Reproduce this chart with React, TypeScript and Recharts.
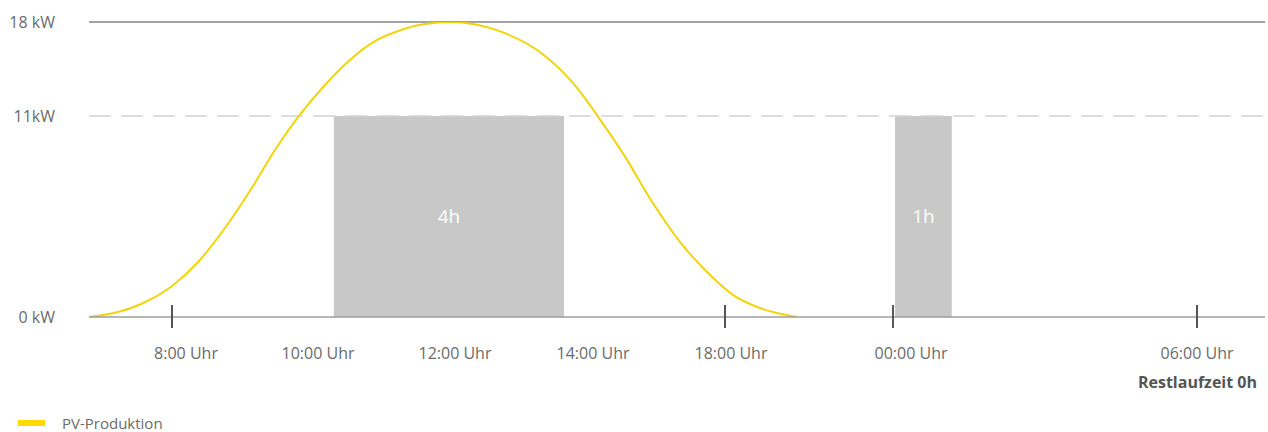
import React from "react";
import {
  ComposedChart,
  Line,
  XAxis,
  YAxis,
  ReferenceLine,
  ReferenceArea,
} from "recharts";

// PV production curve (hour of day, kW)
const pvHours = [
  6.85, 7.25, 7.63, 8.0, 8.36, 8.73, 9.1, 9.42, 9.74, 10.14, 10.47, 10.86,
  11.16, 11.54, 11.93, 12.23, 12.72, 13.2, 13.68, 14.06, 14.89, 15.78, 16.62,
  17.45, 18.29, 19.25, 20.57,
];
const pvKw = [
  0, 0.27, 0.82, 1.7, 3.01, 4.87, 7.06, 9.14, 10.95, 13.46, 15.17, 16.66,
  17.33, 17.85, 18, 17.85, 17.11, 15.77, 13.46, 11.07, 8.87, 6.24, 4.1, 2.46,
  1.2, 0.49, 0,
];

// charging blocks
const chargeStart = [10.24, 24.04];
const chargeEnd = [13.55, 25.16];
const chargePower = [11, 11];
const chargeLabels = ["4h", "1h"];

// axes
const xTickHours = [8, 10, 12, 14, 18, 24, 30];
const xTickLabels = [
  "8:00 Uhr",
  "10:00 Uhr",
  "12:00 Uhr",
  "14:00 Uhr",
  "18:00 Uhr",
  "00:00 Uhr",
  "06:00 Uhr",
];
const xTickMarked = [true, false, false, false, true, true, true];
const yTicks = [0, 11, 18];
const yTickLabels = ["0 kW", "11kW", "18 kW"];
const remainingLabel = "Restlaufzeit 0h";
const seriesName = "PV-Produktion";

// the timeline is drawn schematically, not to scale
const xKnots = [6.85, 8, 10, 12, 14, 18, 24, 30, 31.2];
const xKnotFrac = [0, 0.0706, 0.1939, 0.3129, 0.4303, 0.5408, 0.6837, 0.9422, 1];
const yKnots = [0, 11, 18];
const yKnotFrac = [0, 0.6814, 1];
const xLabelNudge = [14, 1, -2, -2, 6, 18, 0];

const YELLOW = "#f2d40c";
const TEXT = "#6b6b6b";
const FONT = "'Open Sans', sans-serif";

function piecewiseScale(knots: number[], fracs: number[]): any {
  let domain = [knots[0], knots[knots.length - 1]];
  let range = [0, 1];
  const toFrac = (v: number) => {
    let i = 0;
    while (i < knots.length - 2 && v > knots[i + 1]) i++;
    const t = (v - knots[i]) / (knots[i + 1] - knots[i]);
    return fracs[i] + t * (fracs[i + 1] - fracs[i]);
  };
  const fromFrac = (f: number) => {
    let i = 0;
    while (i < fracs.length - 2 && f > fracs[i + 1]) i++;
    const t = (f - fracs[i]) / (fracs[i + 1] - fracs[i]);
    return knots[i] + t * (knots[i + 1] - knots[i]);
  };
  const scale: any = (v: any) =>
    range[0] + toFrac(Number(v)) * (range[1] - range[0]);
  scale.domain = (...args: any[]) => {
    if (!args.length) return domain.slice();
    domain = args[0].slice();
    return scale;
  };
  scale.range = (...args: any[]) => {
    if (!args.length) return range.slice();
    range = args[0].slice();
    return scale;
  };
  scale.copy = () => piecewiseScale(knots, fracs).domain(domain).range(range);
  scale.ticks = () => knots.filter((k) => k >= domain[0] && k <= domain[1]);
  scale.tickFormat = () => (v: any) => String(v);
  scale.invert = (px: number) =>
    fromFrac((px - range[0]) / (range[1] - range[0]));
  scale.nice = () => scale;
  scale.clamp = () => scale;
  return scale;
}

const xScale = piecewiseScale(xKnots, xKnotFrac);
const yScale = piecewiseScale(yKnots, yKnotFrac);

const pvData = pvHours.map((h, i) => ({ h, kw: pvKw[i] }));

function XTick(props: any) {
  const { x, y, payload } = props;
  const i = xTickHours.indexOf(payload.value);
  const axisY = y - 8;
  const last = i === xTickHours.length - 1;
  return (
    <g>
      {xTickMarked[i] && (
        <line
          x1={x}
          x2={x}
          y1={axisY - 12}
          y2={axisY + 11}
          stroke="#555"
          strokeWidth={2}
        />
      )}
      <text
        x={x + xLabelNudge[i]}
        y={axisY + 36}
        textAnchor="middle"
        dominantBaseline="central"
        fill={TEXT}
        fontSize={16}
        fontFamily={FONT}
      >
        {xTickLabels[i]}
      </text>
      {last && (
        <text
          x={x + 60}
          y={axisY + 65}
          textAnchor="end"
          dominantBaseline="central"
          fill="#555"
          fontSize={16}
          fontWeight={700}
          fontFamily={FONT}
        >
          {remainingLabel}
        </text>
      )}
    </g>
  );
}

export default function App() {
  return (
    <div
      style={{
        position: "absolute",
        left: 0,
        top: 0,
        width: 1268,
        height: 432,
        background: "#fff",
        fontFamily: FONT,
      }}
    >
      <ComposedChart
        width={1268}
        height={432}
        data={pvData}
        margin={{ top: 22, right: 3, bottom: 85, left: 0 }}
        style={{ fontFamily: FONT }}
      >
        <XAxis
          dataKey="h"
          type="number"
          scale={xScale}
          domain={[xKnots[0], xKnots[xKnots.length - 1]]}
          allowDataOverflow
          ticks={xTickHours}
          tick={<XTick />}
          tickLine={false}
          tickSize={6}
          tickMargin={2}
          height={30}
          interval={0}
          axisLine={{ stroke: "#9c9c9c", strokeWidth: 1.5 }}
        />
        <YAxis
          type="number"
          scale={yScale}
          domain={[0, 18]}
          allowDataOverflow
          ticks={yTicks}
          interval={0}
          width={89}
          tickLine={false}
          axisLine={false}
          tickSize={6}
          tickMargin={28}
          tickFormatter={(v: number) => yTickLabels[yTicks.indexOf(v)]}
          tick={{ fill: TEXT, fontSize: 16, fontFamily: FONT }}
        />
        <ReferenceLine y={18} stroke="#858585" strokeWidth={1.5} />
        <ReferenceLine
          y={11}
          stroke="#d2d2d2"
          strokeWidth={1.5}
          strokeDasharray="22 10"
        />
        {chargeStart.map((s, i) => (
          <ReferenceArea
            key={i}
            x1={s}
            x2={chargeEnd[i]}
            y1={0}
            y2={chargePower[i]}
            fill="#c8c8c8"
            fillOpacity={1}
            stroke="none"
            label={{
              value: chargeLabels[i],
              position: "center",
              fill: "#fff",
              fontSize: 19,
              fontFamily: FONT,
            }}
          />
        ))}
        <Line
          type="monotone"
          dataKey="kw"
          name={seriesName}
          stroke={YELLOW}
          strokeWidth={2}
          dot={false}
          isAnimationActive={false}
        />
      </ComposedChart>
      <div
        style={{
          position: "absolute",
          left: 18,
          top: 413,
          height: 20,
          display: "flex",
          alignItems: "center",
          gap: 17,
        }}
      >
        <span
          style={{ width: 27, height: 6, background: "#ffd900", display: "block" }}
        />
        <span style={{ color: TEXT, fontSize: 15, lineHeight: "20px" }}>
          {seriesName}
        </span>
      </div>
    </div>
  );
}
